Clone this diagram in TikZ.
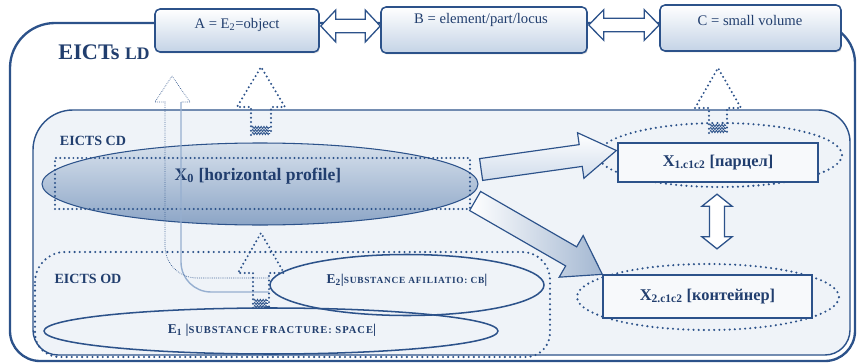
\documentclass[tikz,border=0pt]{standalone}
\usepackage{fontspec}
\setmainfont{Liberation Serif}
\usetikzlibrary{shapes.geometric,calc,decorations.pathmorphing,shadows}
\definecolor{dblue}{RGB}{44,82,138}
\definecolor{tblue}{RGB}{33,62,110}
\definecolor{panel}{RGB}{239,243,248}
\definecolor{boxbot}{RGB}{196,211,230}
\definecolor{ellL}{RGB}{214,224,236}
\definecolor{ellD}{RGB}{140,165,198}
\definecolor{lightln}{RGB}{150,175,208}
\newcommand\pxu{0.03cm}
% block arrow: style, from, to, shaft half width, head half width, head length
\newcommand\blockarrow[6]{%
  \coordinate (bah) at ($(#3)!#6!(#2)$);
  \path[#1] ($(#2)!#4!90:(#3)$) -- ($(bah)!#4!90:(#3)$) -- ($(bah)!#5!90:(#3)$) -- (#3)
    -- ($(bah)!#5!-90:(#3)$) -- ($(bah)!#4!-90:(#3)$) -- ($(#2)!#4!-90:(#3)$) -- cycle;}
% double-headed block arrow
\newcommand\dblarrow[6]{%
  \coordinate (dah) at ($(#2)!#6!(#3)$);
  \coordinate (dbh) at ($(#3)!#6!(#2)$);
  \path[#1] (#2) -- ($(dah)!#5!90:(#3)$) -- ($(dah)!#4!90:(#3)$) -- ($(dbh)!#4!90:(#3)$)
    -- ($(dbh)!#5!90:(#3)$) -- (#3) -- ($(dbh)!#5!-90:(#3)$) -- ($(dbh)!#4!-90:(#3)$)
    -- ($(dah)!#4!-90:(#3)$) -- ($(dah)!#5!-90:(#3)$) -- cycle;}
% dotted hollow up arrow: x, tip y, base y, bottom y, head hw, shaft hw
\newcommand\dotup[6]{%
  \draw[dotline] (#1-#6,#4) -- (#1-#6,#3) -- (#1-#5,#3) -- (#1,#2) -- (#1+#5,#3) -- (#1+#6,#3) -- (#1+#6,#4);
  \foreach \hy in {1.5,4.5,7.5}{\draw[hatchln] (#1-#6+1,#4-\hy) -- (#1+#6-1,#4-\hy);}}
\begin{document}
\begin{tikzpicture}[x=0.03cm,y=-0.03cm,
  topbox/.style={draw=dblue, line width=1.3pt, rounded corners=0.15cm, top color=white, bottom color=boxbot, inner sep=0pt,
    drop shadow={shadow xshift=0.8pt, shadow yshift=-1.2pt, opacity=0.25}},
  toptext/.style={text=tblue, font=\fontsize{12.5}{14}\selectfont, inner sep=0pt},
  lbl/.style={text=tblue, font=\bfseries\fontsize{12}{14}\selectfont, inner sep=0pt},
  dotline/.style={dblue, line width=1.9pt, dash pattern=on 0pt off 3.7pt, line cap=round},
  finedot/.style={dblue, line width=0.8pt, dash pattern=on 0pt off 1.6pt, line cap=round},
  dotring/.style={draw=dblue, line width=2pt, dash pattern=on 0pt off 4.4pt, line cap=round, ellipse, inner sep=0pt},
  hatchln/.style={dblue, line width=0.7pt, decorate, decoration={zigzag, segment length=2.4pt, amplitude=1pt}},
  xrect/.style={draw=dblue, line width=1.1pt, fill=panel!50!white, inner sep=0pt, text=tblue, font=\bfseries\fontsize{14}{16}\selectfont},
  hollow/.style={draw=dblue, line width=1.1pt, fill=white},
  blockarr/.style={draw=dblue, line width=1pt},
  eline/.style={draw=dblue, line width=1.3pt, ellipse, inner sep=0pt},
  etext/.style={text=tblue, inner sep=0pt, font=\bfseries\fontsize{11.5}{12}\selectfont},
]
\useasboundingbox (0,0) rectangle (858,364);
% outer box (EICTs LD)
\draw[dblue, line width=2pt, fill=white] (10,68) arc[start angle=180,end angle=270,radius=45] -- (815,23)
  arc[start angle=270,end angle=360,radius=40] -- (855,331) arc[start angle=0,end angle=90,radius=30]
  -- (40,361) arc[start angle=90,end angle=180,radius=30] -- cycle;
\node[text=tblue, font=\bfseries\fontsize{19}{21}\selectfont, inner sep=0pt] (LD) at (104,52) {EICTs {\fontsize{15}{17}\selectfont LD}};
% top boxes
\node[topbox, minimum width=164*\pxu, minimum height=43*\pxu] (A) at (237,30.5) {};
\node[topbox, minimum width=206*\pxu, minimum height=46*\pxu] (B) at (484,30) {};
\node[topbox, minimum width=181*\pxu, minimum height=46*\pxu] (C) at (750.5,28) {};
\node[toptext] (At) at (237,25) {A = E\textsubscript{2}=object};
\node[toptext] (Bt) at (481,20) {B = element/part/locus};
\node[toptext] (Ct) at (750,20) {C = small volume};
\coordinate (ab1) at ($(A.east)+(1,-4.5)$);
\coordinate (ab2) at ($(B.west)+(0,-4)$);
\coordinate (bc1) at ($(B.east)+(1,-5)$);
\coordinate (bc2) at ($(C.west)+(0,-3)$);
\dblarrow{hollow}{ab1}{ab2}{0.2cm}{0.48cm}{0.45cm}
\dblarrow{hollow}{bc1}{bc2}{0.2cm}{0.46cm}{0.45cm}
% inner panel (EICTS CD)
\draw[dblue, line width=1.2pt, fill=panel] (33,150) arc[start angle=180,end angle=270,radius=40] -- (818,110)
  arc[start angle=270,end angle=360,radius=32] -- (850,330) arc[start angle=0,end angle=90,radius=25]
  -- (58,355) arc[start angle=90,end angle=180,radius=25] -- cycle;
\node[lbl] (CD) at (93,141) {EICTS CD};
% EICTS OD region
\draw[dotline, line width=2pt, dash pattern=on 0pt off 4.4pt] (35,282) arc[start angle=180,end angle=270,radius=30] -- (522,252)
  arc[start angle=270,end angle=360,radius=28] -- (550,333) arc[start angle=0,end angle=90,radius=24]
  -- (59,357) arc[start angle=90,end angle=180,radius=24] -- cycle;
\node[lbl] (OD) at (88,279) {EICTS OD};
% E1, E2
\node[eline, minimum width=454*\pxu, minimum height=46*\pxu] (E1) at (271,331) {};
\node[etext] (E1t) at (272,330) {E\textsubscript{1} |{\fontsize{9}{10}\selectfont\addfontfeature{LetterSpace=9}SUBSTANCE FRACTURE: SPACE}|};
\node[eline, minimum width=274*\pxu, minimum height=61*\pxu] (E2) at (407,285) {};
\node[etext] (E2t) at (407,280) {E\textsubscript{2}|{\fontsize{8}{9}\selectfont\addfontfeature{LetterSpace=8}SUBSTANCE AFILIATIO: CB}|};
% X0
\node[ellipse, inner sep=0pt, minimum width=436*\pxu, minimum height=82*\pxu, draw=dblue, line width=0.9pt,
  top color=ellL, bottom color=ellD] (X0e) at (260,184) {};
\node[draw=dblue, dotline, minimum width=415*\pxu, minimum height=51*\pxu, inner sep=0pt] (X0r) at (262.5,183.5) {};
\node[text=tblue, font=\bfseries\fontsize{15}{17}\selectfont, inner sep=0pt] (X0t) at (258,176) {X\textsubscript{0} [horizontal profile]};
% curved thin arrow from E2 to A
\draw[lightln, line width=1.2pt] (181,102) -- (181,262) arc[start angle=180,end angle=90,radius=30] -- (E2.west|-0,292);
\draw[finedot] (165,102) -- (165,246) arc[start angle=180,end angle=90,radius=32] -- (E2.west|-0,278);
\draw[finedot] (165,102) -- (155,102) -- (172,76) -- (190,102) -- (181,102);
% dotted up arrows
\dotup{261}{67}{107}{135}{24}{10}
\dotup{718}{68}{108}{133}{23}{9}
\dotup{261}{233}{273}{308}{23}{8}
% X1, X2
\node[dotring, minimum width=244*\pxu, minimum height=64*\pxu] (X1e) at (720,155) {};
\node[xrect, minimum width=200*\pxu, minimum height=39*\pxu] (X1) at (718,162.5) {X\textsubscript{1.c1c2} [парцел]};
\node[dotring, minimum width=262*\pxu, minimum height=66*\pxu] (X2e) at (708,297) {};
\node[xrect, minimum width=209*\pxu, minimum height=43*\pxu] (X2) at (707.5,296.5) {X\textsubscript{2.c1c2} [контейнер]};
% block arrows from X0
\coordinate (t1) at ($(X0r.east)+(10,-14)$);
\coordinate (h1) at ($(X1.west)+(-1,-12)$);
\coordinate (t2) at ($(X0r.east)+(4,17.5)$);
\coordinate (h2) at (X2.north west);
\blockarrow{blockarr, top color=white, bottom color=boxbot!80!white}{t1}{h1}{0.33cm}{0.69cm}{1.08cm}
\blockarrow{blockarr, left color=white, right color=ellD!80!white}{t2}{h2}{0.33cm}{0.72cm}{1.08cm}
% vertical double arrow X1 <-> X2
\coordinate (v1) at ($(X1e.south)+(-3,6)$);
\coordinate (v2) at ($(X2e.north)+(9,-14)$);
\dblarrow{hollow}{v1}{v2}{0.225cm}{0.45cm}{0.36cm}
\end{tikzpicture}
\end{document}
